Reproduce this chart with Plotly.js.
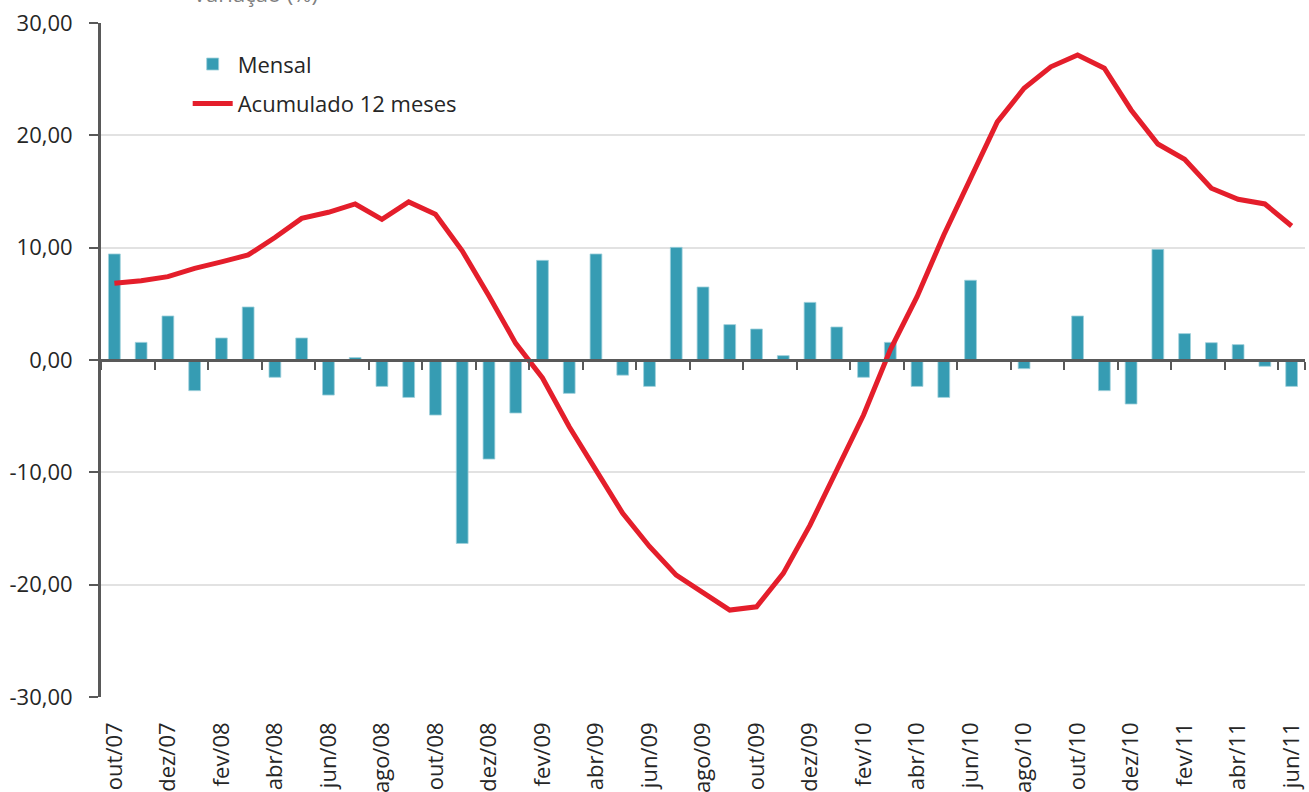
<!DOCTYPE html>
<html>
<head>
<meta charset="utf-8">
<script src="https://cdn.plot.ly/plotly-3.0.1.min.js"></script>
<style>
  html, body { margin: 0; padding: 0; background: #ffffff; }
  #chart { width: 1309px; height: 792px; }
</style>
</head>
<body>
<div id="chart"></div>
<script>
const months = [
  "out/07","nov/07","dez/07",
  "jan/08","fev/08","mar/08","abr/08","mai/08","jun/08","jul/08","ago/08","set/08","out/08","nov/08","dez/08",
  "jan/09","fev/09","mar/09","abr/09","mai/09","jun/09","jul/09","ago/09","set/09","out/09","nov/09","dez/09",
  "jan/10","fev/10","mar/10","abr/10","mai/10","jun/10","jul/10","ago/10","set/10","out/10","nov/10","dez/10",
  "jan/11","fev/11","mar/11","abr/11","mai/11","jun/11"
];

const mensal = [
  9.44, 1.57, 3.92,
  -2.73, 1.96, 4.72, -1.54, 1.96, -3.12, 0.22, -2.35, -3.33, -4.90, -16.33, -8.82,
  -4.72, 8.87, -2.97, 9.44, -1.35, -2.35, 10.03, 6.50, 3.15, 2.76, 0.39, 5.13,
  2.94, -1.54, 1.57, -2.35, -3.33, 7.10, 0.00, -0.77, 0.00, 3.92, -2.73, -3.92,
  9.85, 2.35, 1.54, 1.37, -0.56, -2.35
];

const acumulado12 = [
  6.83, 7.06, 7.42,
  8.16, 8.73, 9.35, 10.90, 12.61, 13.15, 13.89, 12.52, 14.07, 12.97, 9.72, 5.70,
  1.48, -1.60, -5.94, -9.80, -13.65, -16.60, -19.15, -20.70, -22.26, -21.97, -19.00, -14.70,
  -9.80, -4.90, 0.90, 5.64, 11.13, 16.18, 21.20, 24.19, 26.10, 27.16, 25.97, 22.26,
  19.23, 17.87, 15.29, 14.31, 13.89, 11.93
];

const seriesNames = ["Mensal", "Acumulado 12 meses"];
const yTickVals = [-30, -20, -10, 0, 10, 20, 30];
const yTickText = ["-30,00", "-20,00", "-10,00", "0,00", "10,00", "20,00", "30,00"];
const xTickLabels = months.filter((m, i) => i % 2 === 0);
const titleText = "Variação (%)";

const textColor = "#262626";
const axisColor = "#595959";
const fontFam = "'Open Sans', 'DejaVu Sans', sans-serif";

const traces = [
  {
    type: "bar",
    name: seriesNames[0],
    x: months,
    y: mensal,
    xaxis: "x",
    yaxis: "y",
    marker: { color: "#369CB3", line: { color: "#9fd0dc", width: 0.8 } },
    legendgroup: "a",
    hoverinfo: "x+y"
  },
  {
    type: "scatter",
    mode: "lines",
    name: seriesNames[1],
    x: months,
    y: acumulado12,
    xaxis: "x2",
    yaxis: "y",
    line: { color: "#E41E2B", width: 5 },
    legendgroup: "b",
    hoverinfo: "x+y"
  }
];

const layout = {
  width: 1309,
  height: 792,
  margin: { l: 101, r: 4, t: 23, b: 95, autoexpand: false },
  paper_bgcolor: "#ffffff",
  plot_bgcolor: "#ffffff",
  font: { family: fontFam, size: 22, color: textColor },
  bargap: 0.56,
  showlegend: true,
  legend: {
    x: 0.072, xanchor: "left",
    y: 0.97, yanchor: "top",
    bgcolor: "rgba(0,0,0,0)",
    font: { family: fontFam, size: 22, color: textColor },
    traceorder: "grouped",
    tracegroupgap: 8,
    itemwidth: 40
  },
  xaxis: {
    type: "category",
    categoryorder: "array",
    categoryarray: months,
    range: [-0.5, months.length - 0.5],
    tickmode: "array",
    tickvals: xTickLabels,
    ticktext: xTickLabels,
    tickangle: -90,
    ticks: "",
    ticklabelstandoff: 20,
    showline: false,
    showgrid: false,
    zeroline: false,
    automargin: false,
    tickfont: { family: fontFam, size: 22, color: textColor }
  },
  xaxis2: {
    type: "category",
    categoryorder: "array",
    categoryarray: months,
    range: [-0.5, months.length - 0.5],
    overlaying: "x",
    anchor: "free",
    position: 0.5,
    side: "bottom",
    tickmode: "array",
    tickvals: xTickLabels,
    tickson: "boundaries",
    ticks: "outside",
    ticklen: 8,
    tickwidth: 2,
    tickcolor: axisColor,
    showticklabels: false,
    showline: true,
    linecolor: axisColor,
    linewidth: 3,
    showgrid: false,
    zeroline: false
  },
  yaxis: {
    range: [-30, 30],
    tickmode: "array",
    tickvals: yTickVals,
    ticktext: yTickText,
    ticks: "outside",
    ticklen: 9,
    tickwidth: 2,
    tickcolor: axisColor,
    ticklabelstandoff: 12,
    showline: true,
    linecolor: axisColor,
    linewidth: 3,
    showgrid: true,
    gridcolor: "#e2e2e2",
    gridwidth: 2,
    zeroline: false,
    automargin: false,
    tickfont: { family: fontFam, size: 22, color: textColor }
  },
  annotations: [
    {
      text: titleText,
      xref: "paper", yref: "paper",
      x: 0.182, xanchor: "right",
      y: 1.019, yanchor: "bottom",
      showarrow: false,
      font: { family: fontFam, size: 22, color: "#7f7f7f" }
    }
  ]
};

Plotly.newPlot("chart", traces, layout, { displayModeBar: false, staticPlot: true });
</script>
</body>
</html>
